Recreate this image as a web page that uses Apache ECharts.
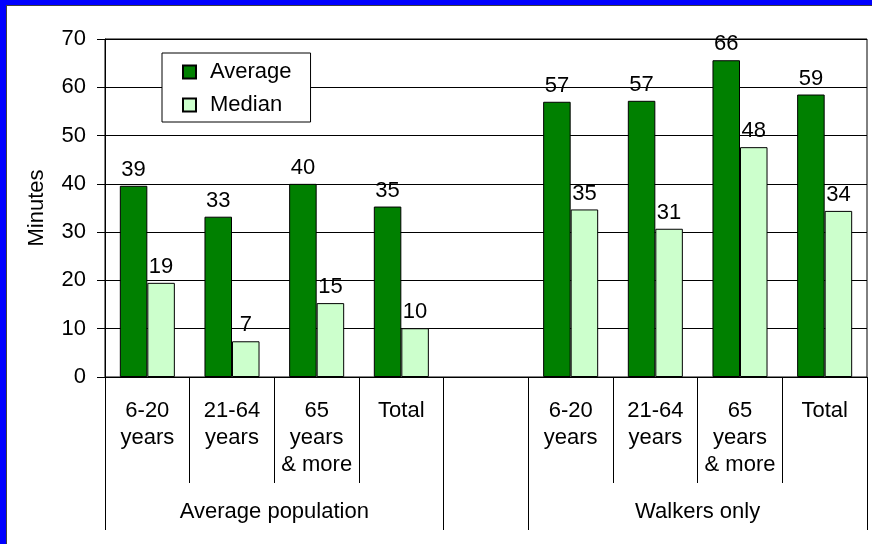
<!DOCTYPE html>
<html>
<head>
<meta charset="utf-8">
<script src="https://cdn.jsdelivr.net/npm/echarts@6/dist/echarts.min.js"></script>
<style>
  html, body { margin: 0; padding: 0; }
  body { width: 872px; height: 544px; background: #0000FF; position: relative; overflow: hidden; }
  #paper { position: absolute; left: 6px; top: 5px; right: 0; bottom: 0; background: #ffffff;
           border-left: 1px solid #404040; border-top: 1px solid #404040; }
  #chart { position: absolute; left: 0; top: 0; width: 872px; height: 544px; }
</style>
</head>
<body>
<div id="paper"></div>
<div id="chart"></div>
<script>
// ---- data ----
var categories = ["6-20\nyears", "21-64\nyears", "65\nyears\n& more", "Total", "",
                  "6-20\nyears", "21-64\nyears", "65\nyears\n& more", "Total"];
var averageValues = [39.6, 33.2, 40.0, 35.3, null, 57.0, 57.2, 65.6, 58.5];
var medianValues  = [19.5, 7.4, 15.3, 10.1, null, 34.7, 30.7, 47.6, 34.4];
var averageLabels = [39, 33, 40, 35, null, 57, 57, 66, 59];
var medianLabels  = [19, 7, 15, 10, null, 35, 31, 48, 34];
var groupNames = ["Average population", "", "Walkers only"];
var groupSizes = [4, 1, 4];
var yTicks = [0, 10, 20, 30, 40, 50, 60, 70];

// derived group positions (category index units)
var groupStarts = [], groupCenters = [];
(function () {
  var s = 0;
  for (var i = 0; i < groupSizes.length; i++) {
    groupStarts.push(s);
    groupCenters.push(s + groupSizes[i] / 2);
    s += groupSizes[i];
  }
})();

var FONT = "Liberation Sans, Arial, sans-serif";
var FS = 22;

var chart = echarts.init(document.getElementById('chart'), null, { renderer: 'canvas' });

function labelFmt(arr) {
  return function (p) { var v = arr[p.dataIndex]; return v == null ? '' : String(v); };
}

var option = {
  backgroundColor: 'transparent',
  animation: false,
  textStyle: { fontFamily: FONT, color: '#000' },
  grid: {
    left: 105, right: 5, top: 39, bottom: 167,
    show: true, borderColor: '#000', borderWidth: 1, backgroundColor: 'transparent'
  },
  legend: {
    left: 162, top: 53,
    orient: 'vertical',
    backgroundColor: '#fff',
    borderColor: '#000', borderWidth: 1,
    padding: [8, 19, 6, 20],
    itemWidth: 13, itemHeight: 13, itemGap: 11,
    icon: 'rect',
    textStyle: { fontFamily: FONT, fontSize: FS, color: '#000', padding: [0, 0, 0, 9] },
    data: ['Average', 'Median']
  },
  xAxis: [
    {
      type: 'category', data: categories, position: 'bottom',
      axisLine: { show: true, lineStyle: { color: '#000', width: 1 } },
      axisTick: { show: true, interval: 0, length: 106, lineStyle: { color: '#000', width: 1 } },
      axisLabel: { interval: 0, fontFamily: FONT, fontSize: FS, color: '#000', lineHeight: 27,
                   margin: 20, verticalAlign: 'top' },
      splitLine: { show: false }
    },
    {
      type: 'category', data: categories, position: 'bottom',
      axisLine: { show: false },
      axisTick: { show: true, length: 153, lineStyle: { color: '#000', width: 1 },
                  interval: function (i) { return groupStarts.indexOf(i) >= 0; } },
      axisLabel: { show: false },
      splitLine: { show: false }
    },
    {
      type: 'value', position: 'bottom', min: 0, max: categories.length, interval: 0.5,
      axisLine: { show: false }, axisTick: { show: false }, splitLine: { show: false },
      axisLabel: {
        fontFamily: FONT, fontSize: FS, color: '#000', margin: 124, verticalAlign: 'top',
        showMinLabel: true, showMaxLabel: true,
        formatter: function (v) {
          for (var i = 0; i < groupCenters.length; i++) {
            if (Math.abs(groupCenters[i] - v) < 1e-6) return groupNames[i];
          }
          return '';
        }
      }
    }
  ],
  yAxis: {
    type: 'value', min: yTicks[0], max: yTicks[yTicks.length - 1], interval: 10,
    name: 'Minutes', nameLocation: 'middle', nameGap: 57,
    nameTextStyle: { fontFamily: FONT, fontSize: FS, color: '#000' },
    axisLine: { show: true, lineStyle: { color: '#000', width: 1 } },
    axisTick: { show: true, length: 8, lineStyle: { color: '#000', width: 1 } },
    axisLabel: { fontFamily: FONT, fontSize: FS, color: '#000', margin: 19 },
    splitLine: { show: true, lineStyle: { color: '#000', width: 1 } }
  },
  series: [
    {
      name: 'Average', type: 'bar', xAxisIndex: 0, data: averageValues,
      barGap: '0%', barCategoryGap: '35%',
      itemStyle: { color: '#008000', borderColor: '#000', borderWidth: 1 },
      label: { show: true, position: 'top', distance: 5, fontFamily: FONT, fontSize: FS, color: '#000',
               formatter: labelFmt(averageLabels) }
    },
    {
      name: 'Median', type: 'bar', xAxisIndex: 0, data: medianValues,
      barGap: '0%', barCategoryGap: '35%',
      itemStyle: { color: '#CCFFCC', borderColor: '#000', borderWidth: 1 },
      label: { show: true, position: 'top', distance: 5, fontFamily: FONT, fontSize: FS, color: '#000',
               formatter: labelFmt(medianLabels) }
    }
  ]
};
chart.setOption(option);
</script>
</body>
</html>
